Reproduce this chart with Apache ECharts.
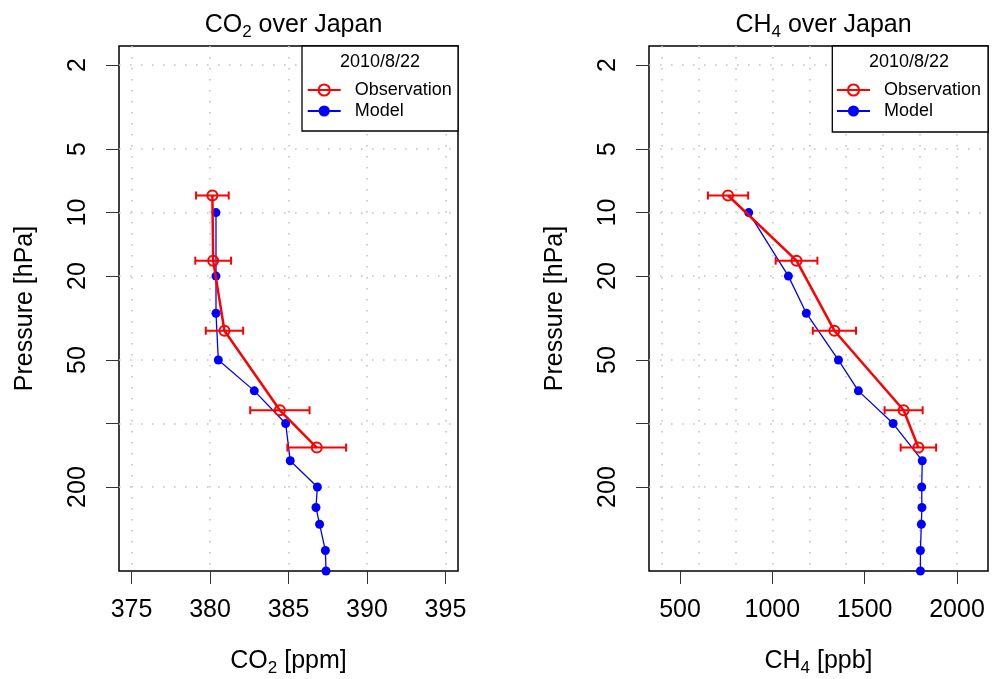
<!DOCTYPE html>
<html><head><meta charset="utf-8">
<script src="https://cdn.jsdelivr.net/npm/echarts@6/dist/echarts.min.js"></script>
<style>html,body{margin:0;padding:0;background:#fff}#c{width:992px;height:679px}</style>
</head><body><div id="c"></div>
<script>
// ---- data ----
const obsPressure = [8.3, 16.9, 36.3, 86.5, 130];
const obsCO2 = [380.15, 380.2, 380.92, 384.45, 386.8];
const obsCO2Err = [1.04, 1.14, 1.19, 1.89, 1.87];
const obsCH4 = [760, 1131, 1336, 1711, 1791];
const obsCH4Err = [109, 113, 117, 103, 96];
const modelPressure = [10, 20, 30, 50, 70, 100, 150, 200, 250, 300, 400, 500];
const modelCO2 = [380.38, 380.38, 380.38, 380.53, 382.82, 384.82, 385.11, 386.84, 386.75, 386.98, 387.35, 387.39];
const modelCH4 = [872, 1087, 1184, 1358, 1466, 1654, 1812, 1809, 1810, 1807, 1802, 1802];
const pressureTicks = [2, 5, 10, 20, 50, 100, 200];
const pressureLabels = [2, 5, 10, 20, 50, 200];
const co2Ticks = [375, 380, 385, 390, 395];
const ch4Ticks = [500, 1000, 1500, 2000];
const ch4GridValues = [400, 600, 800, 1000, 1200, 1400, 1600, 1800, 2000];
const legendDate = '2010/8/22';
const seriesNames = ['Observation', 'Model'];

// ---- chart ----
const FONT = "'Liberation Sans', Arial, Helvetica, sans-serif";
const RED = '#ff0000', BLUE = '#0000ff';
const chart = echarts.init(document.getElementById('c'), null, {renderer: 'canvas'});

const zip = (a, b) => a.map((v, i) => [v, b[i]]);
const zip3 = (a, b, c) => a.map((v, i) => [v, b[i], c[i]]);
const dotted = {show: true, lineStyle: {color: '#c4c4c4', width: 1.6, type: [1.6, 9.4]}};
const sub = {
  a: {fontSize: 25, fontFamily: FONT, color: '#000', fontWeight: 'normal'},
  s: {fontSize: 17, fontFamily: FONT, color: '#000', fontWeight: 'normal', verticalAlign: 'bottom', padding: [0, 0, -3, 0]}
};

function xAxisMain(gi, min, max, ticks, name) {
  return {
    type: 'value', gridIndex: gi, min: min, max: max, position: 'bottom',
    axisLine: {show: false},
    axisTick: {show: true, customValues: ticks, length: 13, lineStyle: {color: '#333', width: 1}},
    axisLabel: {customValues: ticks, fontSize: 25, fontFamily: FONT, color: '#000', margin: 27,
                formatter: v => String(v)},
    splitLine: {show: false},
    name: name, nameLocation: 'middle', nameGap: 78,
    nameTextStyle: {rich: sub}
  };
}
function yAxisP(gi) {
  return {
    type: 'log', logBase: 10, gridIndex: gi, inverse: true, min: 1.623, max: 500,
    axisLine: {show: false},
    axisTick: {show: true, customValues: pressureTicks, length: 13, lineStyle: {color: '#333', width: 1}},
    axisLabel: {customValues: pressureLabels, rotate: 90, fontSize: 25, fontFamily: FONT, color: '#000', margin: 28,
                formatter: v => String(v)},
    splitLine: dotted,
    minorTick: {show: false}, minorSplitLine: {show: false},
    name: 'Pressure [hPa]', nameLocation: 'middle', nameGap: 81, nameRotate: 90,
    nameTextStyle: {fontSize: 25, fontFamily: FONT, color: '#000'}
  };
}
function errRender(params, api) {
  const x = api.value(0), y = api.value(1), e = api.value(2);
  const a = api.coord([x - e, y]), b = api.coord([x + e, y]);
  const h = 4;
  const style = {stroke: RED, lineWidth: 2, fill: null};
  return {type: 'group', children: [
    {type: 'line', shape: {x1: a[0], y1: a[1], x2: b[0], y2: b[1]}, style: style},
    {type: 'line', shape: {x1: a[0], y1: a[1] - h, x2: a[0], y2: a[1] + h}, style: style},
    {type: 'line', shape: {x1: b[0], y1: b[1] - h, x2: b[0], y2: b[1] + h}, style: style}
  ]};
}
function panelSeries(idx, obsX, obsErr, modelX) {
  return [
    {type: 'line', name: seriesNames[1], xAxisIndex: idx, yAxisIndex: idx,
     data: zip(modelX, modelPressure), color: BLUE, lineStyle: {color: BLUE, width: 1.3},
     symbol: 'circle', symbolSize: 9, itemStyle: {color: BLUE}, z: 2, animation: false},
    {type: 'custom', name: 'err' + idx, xAxisIndex: idx, yAxisIndex: idx,
     data: zip3(obsX, obsPressure, obsErr), renderItem: errRender, z: 3, animation: false},
    {type: 'line', name: seriesNames[0], xAxisIndex: idx, yAxisIndex: idx,
     data: zip(obsX, obsPressure), color: RED, lineStyle: {color: RED, width: 2.5},
     symbol: 'circle', symbolSize: 10,
     itemStyle: {color: 'rgba(255,255,255,0)', borderColor: RED, borderWidth: 2}, z: 4, animation: false}
  ];
}
function legendAt(left) {
  return {data: seriesNames, left: left, top: 81, orient: 'vertical', itemWidth: 33, itemHeight: 14,
    itemGap: 3, padding: 0, selectedMode: false, z: 8,
    textStyle: {fontSize: 18, fontFamily: FONT, color: '#000', padding: [0, 0, 0, 9]}};
}
function legendBox(x, y, w, h) {
  return {type: 'rect', shape: {x: x, y: y, width: w, height: h}, style: {fill: '#fff', stroke: '#000', lineWidth: 1.3}, z: 6};
}
function legendTitle(cx, cy) {
  return {type: 'text', x: cx, y: cy, style: {text: legendDate, fontSize: 18, fontFamily: FONT, fill: '#000', align: 'center', verticalAlign: 'middle'}, z: 9};
}

const gridBase = {top: 46, width: 339, height: 525, show: true, borderColor: '#000', borderWidth: 1.5,
  backgroundColor: 'transparent', containLabel: false, outerBoundsMode: 'none'};

const option = {
  backgroundColor: '#fff',
  animation: false,
  title: [
    {text: '{a|CO}{s|2}{a| over Japan}', left: 288.5, top: 8, textAlign: 'center', textStyle: {rich: sub, fontWeight: 'normal'}},
    {text: '{a|CH}{s|4}{a| over Japan}', left: 818.5, top: 8, textAlign: 'center', textStyle: {rich: sub, fontWeight: 'normal'}}
  ],
  grid: [
    Object.assign({left: 119}, gridBase),
    Object.assign({left: 649}, gridBase)
  ],
  xAxis: [
    Object.assign(xAxisMain(0, 374.2, 395.8, co2Ticks, '{a|CO}{s|2}{a| [ppm]}'), {splitLine: dotted}),
    xAxisMain(1, 332, 2168, ch4Ticks, '{a|CH}{s|4}{a| [ppb]}'),
    {type: 'value', gridIndex: 1, min: 332, max: 2168, position: 'top',
     axisLine: {show: false}, axisTick: {show: false, customValues: ch4GridValues},
     axisLabel: {show: false, customValues: ch4GridValues}, splitLine: dotted}
  ],
  yAxis: [yAxisP(0), yAxisP(1)],
  legend: [legendAt(306.7), legendAt(836)],
  graphic: [
    legendBox(302, 46, 156, 85), legendTitle(380, 62),
    legendBox(832.3, 46, 155.7, 86), legendTitle(909, 62)
  ],
  series: [].concat(
    panelSeries(0, obsCO2, obsCO2Err, modelCO2),
    panelSeries(1, obsCH4, obsCH4Err, modelCH4)
  )
};
chart.setOption(option);
</script></body></html>
